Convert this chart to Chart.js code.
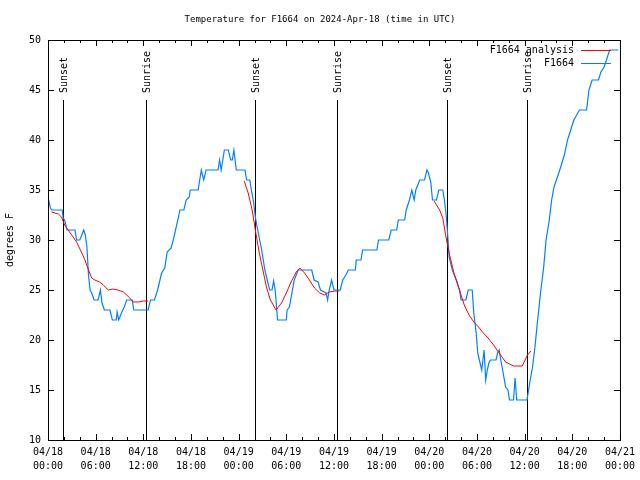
<!DOCTYPE html>
<html>
<head>
<meta charset="utf-8">
<script src="https://cdn.jsdelivr.net/npm/chart.js@4"></script>
<style>html,body{margin:0;padding:0;background:#fff}</style>
</head>
<body>
<canvas id="chart" width="640" height="480"></canvas>
<script>
// Temperature for F1664, hours since 2024-04-18 00:00 UTC

const chartTitle = 'Temperature for F1664 on 2024-Apr-18 (time in UTC)';

// observed station temps
const obsHours = [0.0, 0.3, 0.5, 1.8, 1.9, 2.1, 2.4, 3.4, 3.6, 4.0, 4.5, 4.7, 4.9, 5.1, 5.3, 5.5, 5.8, 6.3, 6.6, 6.8,
  7.1, 7.8, 8.1, 8.6, 8.7, 8.9, 9.3, 9.6, 9.9, 10.6, 10.8, 12.6, 12.9, 13.4, 13.8, 14.3, 14.7, 15.0, 15.5, 15.8,
  16.4, 16.6, 17.1, 17.4, 17.8, 17.9, 18.9, 19.1, 19.3, 19.6, 19.9, 21.4, 21.6, 21.8, 22.2, 22.7, 23.0, 23.2, 23.4, 23.7,
  24.8, 25.0, 25.4, 25.6, 25.9, 26.1, 26.4, 26.9, 27.3, 27.6, 27.9, 28.2, 28.4, 28.6, 28.8, 28.9, 30.0, 30.1, 30.4, 30.7,
  31.0, 31.5, 33.2, 33.5, 34.0, 34.3, 35.0, 35.2, 35.4, 35.7, 36.0, 36.8, 37.1, 37.5, 37.8, 38.7, 38.8, 39.4, 39.6, 41.4,
  41.6, 42.9, 43.2, 43.9, 44.1, 44.9, 45.1, 45.5, 45.8, 46.1, 46.3, 46.8, 47.4, 47.7, 47.9, 48.2, 48.4, 48.9, 49.2, 49.7,
  49.9, 50.1, 50.3, 50.5, 50.9, 51.4, 51.8, 52.0, 52.6, 52.9, 53.4, 53.6, 53.9, 54.1, 54.3, 54.6, 54.9, 55.1, 55.3, 55.5,
  55.7, 56.4, 56.6, 56.8, 57.0, 57.3, 57.6, 57.9, 58.1, 58.6, 58.8, 59.0, 60.3, 60.5, 60.7, 61.0, 61.3, 61.6, 62.0, 62.4,
  62.7, 63.1, 63.4, 63.7, 64.0, 64.3, 64.5, 65.0, 65.4, 65.8, 66.2, 66.9, 67.8, 68.1, 68.5, 69.3, 69.6, 70.0, 70.3, 70.7, 71.8];
const obsTemps = [34.3, 33.2, 33.0, 33.0, 32.2, 32.0, 31.0, 31.0, 30.0, 30.0, 31.0, 30.5, 29.3, 26.5, 25.0, 24.7, 24.0, 24.0, 25.0, 23.7,
  23.0, 23.0, 22.0, 22.0, 22.8, 22.0, 22.8, 23.3, 24.0, 24.0, 23.0, 23.0, 24.0, 24.0, 25.0, 26.7, 27.2, 28.8, 29.2, 30.1,
  32.2, 33.0, 33.0, 34.0, 34.3, 35.0, 35.0, 36.0, 37.0, 36.0, 37.0, 37.0, 38.0, 37.0, 39.0, 39.0, 38.0, 38.0, 39.0, 37.0,
  37.0, 36.0, 36.0, 35.0, 33.7, 32.3, 31.0, 29.0, 27.0, 26.0, 25.0, 25.0, 25.9, 25.0, 23.0, 22.0, 22.0, 23.0, 23.3, 24.7,
  26.0, 27.0, 27.0, 26.0, 25.8, 25.0, 24.7, 24.0, 25.0, 26.0, 25.0, 25.0, 26.0, 26.5, 27.0, 27.0, 28.0, 28.0, 29.0, 29.0,
  30.0, 30.0, 31.0, 31.0, 32.0, 32.0, 33.0, 34.0, 35.0, 34.0, 35.0, 36.0, 36.0, 37.0, 36.7, 35.7, 34.0, 34.0, 35.0, 35.0,
  34.0, 32.7, 30.7, 28.3, 27.0, 26.0, 25.0, 24.0, 24.0, 25.0, 25.0, 22.7, 20.7, 18.7, 18.0, 17.0, 19.0, 16.0, 17.0, 17.7,
  18.0, 18.0, 18.7, 19.0, 18.0, 16.7, 15.3, 15.0, 14.0, 14.0, 16.2, 14.0, 14.0, 15.0, 16.0, 17.3, 19.3, 21.7, 24.7, 27.3,
  30.0, 32.0, 34.0, 35.3, 36.0, 36.7, 37.2, 38.5, 40.0, 41.0, 42.0, 43.0, 43.0, 45.0, 46.0, 46.0, 46.8, 47.3, 48.0, 49.0, 49.0];

// analysis (null = gap between runs)
const anaHours = [0.45, 1.3, 1.7, 2.1, 2.8, 3.6, 4.2, 4.65, 5.1, 5.5, 5.9, 6.5, 6.95, 7.6, 8.2, 8.8, 9.5, 9.9, 10.3, 10.7, 11.35, 12.0, 12.6,
  18.0,
  24.7, 25.2, 25.7, 26.1, 26.6, 27.05, 27.5, 28.0, 28.7, 29.4, 30.0, 30.6, 31.25, 31.7, 32.3, 32.9, 33.55, 34.2, 34.8, 35.4, 36.1, 36.7,
  42.0,
  48.6, 49.3, 49.7, 50.1, 50.5, 51.1, 51.8, 52.4, 53.0, 53.6, 54.2, 54.8, 55.4, 56.1, 56.6, 56.8, 57.6, 58.6, 59.7, 60.35, 60.8];
const anaTemps = [32.8, 32.6, 32.3, 31.5, 30.7, 29.8, 28.8, 28.0, 27.0, 26.2, 26.0, 25.8, 25.5, 25.0, 25.1, 25.0, 24.8, 24.5, 24.2, 23.8, 23.8, 23.9, 23.9,
  null,
  35.9, 34.7, 33.0, 31.0, 28.7, 27.0, 25.3, 24.0, 23.0, 23.7, 24.7, 25.8, 26.8, 27.2, 26.7, 26.0, 25.2, 24.7, 24.5, 24.8, 24.9, 24.9,
  null,
  33.9, 33.0, 32.2, 30.3, 28.7, 26.7, 25.0, 23.5, 22.5, 21.8, 21.3, 20.7, 20.2, 19.5, 18.9, 18.7, 17.8, 17.4, 17.4, 18.5, 18.9];

// sunrise / sunset markers
const sunHours = [1.92, 12.35, 26.05, 36.35, 50.22, 60.35];
const sunLabels = ['Sunset', 'Sunrise', 'Sunset', 'Sunrise', 'Sunset', 'Sunrise'];

// x tick labels every 6 hours
const tickDates = ['04/18', '04/18', '04/18', '04/18', '04/19', '04/19', '04/19', '04/19', '04/20', '04/20', '04/20', '04/20', '04/21'];
const tickTimes = ['00:00', '06:00', '12:00', '18:00', '00:00', '06:00', '12:00', '18:00', '00:00', '06:00', '12:00', '18:00', '00:00'];

const MONO = '"DejaVu Sans Mono", "Liberation Mono", monospace';
const BLUE = 'rgb(0,128,255)';
const RED = 'rgb(255,0,0)';

const toPoints = (xs, ys) => xs.map((x, i) => ({ x: x, y: ys[i] }));

// gnuplot-ish frame, inward ticks, sun lines, title and legend
const gnuplotDecor = {
  id: 'gnuplotDecor',
  beforeDatasetsDraw(chart) {
    const { ctx, chartArea: a, scales } = chart;
    ctx.save();
    ctx.strokeStyle = '#000';
    ctx.lineWidth = 1;
    ctx.fillStyle = '#000';
    ctx.font = '10px ' + MONO;
    sunHours.forEach((h, i) => {
      const x = Math.round(scales.x.getPixelForValue(h)) + 0.5;
      ctx.beginPath();
      ctx.moveTo(x, 100);
      ctx.lineTo(x, a.bottom);
      ctx.stroke();
      ctx.save();
      ctx.translate(x + 1, 93);
      ctx.rotate(-Math.PI / 2);
      ctx.textAlign = 'left';
      ctx.textBaseline = 'middle';
      ctx.fillText(sunLabels[i], 0, 0);
      ctx.restore();
    });
    ctx.restore();
  },
  afterDraw(chart) {
    const { ctx, chartArea: a, scales } = chart;
    ctx.save();
    ctx.strokeStyle = '#000';
    ctx.lineWidth = 1;
    ctx.strokeRect(a.left + 0.5, a.top + 0.5, a.right - a.left, a.bottom - a.top);

    ctx.beginPath();
    for (let h = 0; h <= 72; h += 2) {
      const x = Math.round(scales.x.getPixelForValue(h)) + 0.5;
      const len = h % 6 === 0 ? 6 : 3;
      ctx.moveTo(x, a.bottom); ctx.lineTo(x, a.bottom - len);
      ctx.moveTo(x, a.top); ctx.lineTo(x, a.top + len);
    }
    for (let t = 10; t <= 50; t += 5) {
      const y = Math.round(scales.y.getPixelForValue(t)) + 0.5;
      ctx.moveTo(a.left, y); ctx.lineTo(a.left + 6, y);
      ctx.moveTo(a.right, y); ctx.lineTo(a.right - 6, y);
    }
    ctx.stroke();

    ctx.fillStyle = '#000';
    ctx.font = '9px ' + MONO;
    ctx.textAlign = 'center';
    ctx.textBaseline = 'middle';
    ctx.fillText(chartTitle, 320, 20);

    // legend: text on the left, line sample on the right
    ctx.font = '10px ' + MONO;
    ctx.textAlign = 'right';
    chart.data.datasets.forEach((ds, i) => {
      const y = 50 + i * 13;
      ctx.fillStyle = '#000';
      ctx.fillText(ds.label, 574, y);
      ctx.strokeStyle = ds.borderColor;
      ctx.beginPath();
      ctx.moveTo(581, y + 0.5);
      ctx.lineTo(611, y + 0.5);
      ctx.stroke();
    });
    ctx.restore();
  }
};

new Chart(document.getElementById('chart').getContext('2d'), {
  type: 'line',
  data: {
    datasets: [
      {
        label: 'F1664 analysis',
        data: toPoints(anaHours, anaTemps),
        borderColor: RED,
        borderWidth: 1,
        pointRadius: 0,
        spanGaps: false,
        order: 0,
      },
      {
        label: 'F1664',
        data: toPoints(obsHours, obsTemps),
        borderColor: BLUE,
        borderWidth: 1.2,
        pointRadius: 0,
        order: 1,
      },
    ],
  },
  options: {
    responsive: false,
    animation: false,
    devicePixelRatio: 1,
    layout: { padding: { left: 0, top: 40, right: 19, bottom: 0 } },
    plugins: {
      legend: { display: false },
      tooltip: { enabled: false },
    },
    scales: {
      x: {
        type: 'linear',
        min: 0,
        max: 72,
        grid: { display: false, drawTicks: false },
        border: { display: false },
        ticks: {
          stepSize: 6,
          autoSkip: false,
          maxRotation: 0,
          padding: 5,
          color: '#000',
          font: { family: MONO, size: 10, lineHeight: 1.4 },
          callback: (v) => {
            const i = Math.round(v / 6);
            return [tickDates[i], tickTimes[i]];
          },
        },
        afterFit: (scale) => { scale.height = 40; },
      },
      y: {
        min: 10,
        max: 50,
        grid: { display: false, drawTicks: false },
        border: { display: false },
        ticks: {
          stepSize: 5,
          padding: 7,
          color: '#000',
          font: { family: MONO, size: 10 },
        },
        title: {
          display: true,
          text: 'degrees F',
          color: '#000',
          padding: { top: 4, bottom: 0 },
          font: { family: MONO, size: 10 },
        },
        afterFit: (scale) => { scale.width = 48; },
      },
    },
  },
  plugins: [gnuplotDecor],
});
</script>
</body>
</html>
